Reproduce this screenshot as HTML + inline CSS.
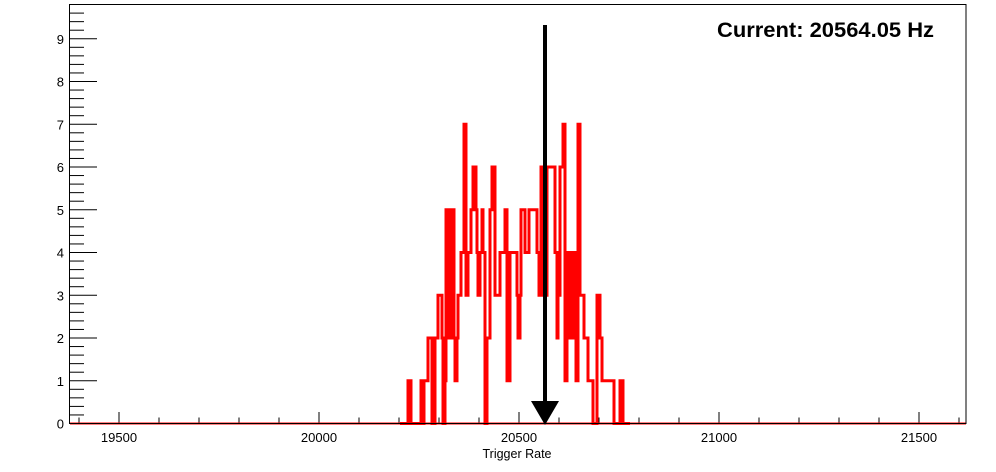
<!DOCTYPE html>
<html><head><meta charset="utf-8"><style>
html,body{margin:0;padding:0;background:#fff;}
svg{display:block;font-family:"Liberation Sans",Arial,sans-serif;}
</style></head><body>
<svg id="s" width="996" height="472" viewBox="0 0 996 472" xmlns="http://www.w3.org/2000/svg">
<rect x="0" y="0" width="996" height="472" fill="#fff"/>
<g id="ticks" stroke="#000" stroke-width="1"></g>
<path id="h" fill="none" stroke="#ff0000" stroke-width="3"/>
<line x1="70" y1="423.5" x2="966" y2="423.5" stroke="#ff0000" stroke-width="2"/>
<rect x="69.5" y="4.5" width="896.5" height="419" fill="none" stroke="#000" stroke-width="1"/>
<line x1="545" y1="25" x2="545" y2="403" stroke="#000" stroke-width="4"/>
<polygon points="531,401 559,401 545,425" fill="#000"/>
<g font-size="13" fill="#000" text-anchor="end" id="yl"></g>
<g font-size="13" fill="#000" text-anchor="middle">
<text x="119" y="442">19500</text>
<text x="319" y="442">20000</text>
<text x="519" y="442">20500</text>
<text x="719" y="442">21000</text>
<text x="919" y="442">21500</text>
<text x="517" y="458" font-size="12.5">Trigger Rate</text>
</g>
<text x="934" y="37" font-size="21.5" font-weight="bold" text-anchor="end" textLength="217" lengthAdjust="spacingAndGlyphs">Current: 20564.05 Hz</text>
</svg>
<script>
var y=function(l){return 423.5-l*42.75;};
var t=document.getElementById('ticks'),s='';
for(var v=0;v<=9.8;v+=0.2){var k=Math.round(v*5);var yy=y(v);if(yy<5)break;var len=(k%5==0)?27:14;s+='<line x1="70" y1="'+yy+'" x2="'+(70+len)+'" y2="'+yy+'"/>';}
for(var x=79;x<966;x+=40){var maj=((x-119)%200==0);s+='<line x1="'+x+'" y1="423" x2="'+x+'" y2="'+(423-(maj?11:5.5))+'"/>';}
t.innerHTML=s;
var yl='';for(var i=0;i<=9;i++){yl+='<text x="64" y="'+(y(i)+5)+'">'+i+'</text>';}
document.getElementById('yl').innerHTML=yl;
var d=[[400,0],[408,1],[411,0],[421,1],[423,0],[424,1],[428,2],[432,0],[435,2],[438,3],[442,2],[443,0],[445,1],[446,5],[447,2],[448,5],[449,2],[450,5],[451,2],[453,5],[454,2],[455,1],[457,2],[458,3],[461,4],[464,7],[466,3],[468,4],[471,5],[473,6],[476,5],[477,4],[478,3],[480,4],[482,5],[483,4],[485,0],[487,2],[490,5],[492,6],[495,3],[500,4],[505,5],[507,1],[510,4],[517,3],[518,2],[520,3],[521,5],[525,4],[529,5],[537,4],[539,3],[541,6],[542,3],[543,6],[544,3],[545,6],[546,3],[547,6],[552,6],[555,4],[557,2],[558,3],[560,6],[563,7],[565,1],[567,4],[568,2],[569,4],[570,2],[571,4],[572,2],[574,4],[576,1],[578,7],[580,3],[584,2],[588,1],[593,0],[597,3],[600,2],[602,1],[614,0],[620,1],[623,0],[630,0]];
var p='M'+d[0][0]+' '+y(d[0][1]);
for(var i=1;i<d.length;i++){p+=' H'+d[i][0]+' V'+y(d[i][1]);}
document.getElementById('h').setAttribute('d',p);
</script>
</body></html>
